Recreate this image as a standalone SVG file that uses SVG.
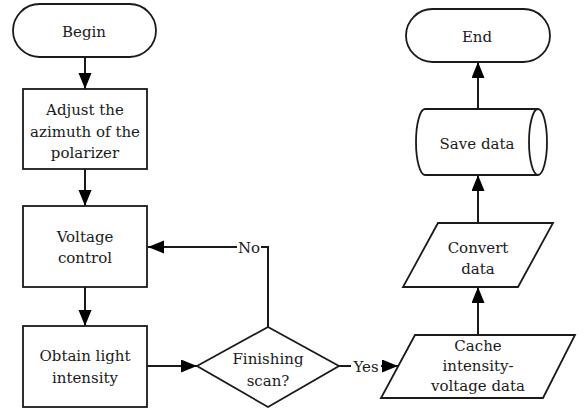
<svg xmlns="http://www.w3.org/2000/svg" width="585" height="411" viewBox="0 0 585 411">
<defs>
<marker id="ah" markerUnits="userSpaceOnUse" markerWidth="18" markerHeight="14" refX="16" refY="6.5" orient="auto">
<path d="M0,0 L16,6.5 L0,13 Z" fill="#000"/>
</marker>
<style>
.s{fill:#fff;stroke:#1a1a1a;stroke-width:1.8}
.c{fill:none;stroke:#1a1a1a;stroke-width:2}
text{font-family:'DejaVu Serif',serif;font-size:15px;fill:#1a1a1a;text-anchor:middle}
</style>
</defs>
<rect width="585" height="411" fill="#fff"/>
<g id="connectors">
<path class="c" d="M85,57 V89" marker-end="url(#ah)"/>
<path class="c" d="M85,169 V206" marker-end="url(#ah)"/>
<path class="c" d="M85,287 V326" marker-end="url(#ah)"/>
<path class="c" d="M147,366 H197" marker-end="url(#ah)"/>
<path class="c" d="M268,327 V247 H261"/>
<path class="c" d="M237,247 H148" marker-end="url(#ah)"/>
<text x="249" y="253">No</text>
<path class="c" d="M339,366 H351"/>
<text x="366" y="372">Yes</text>
<path class="c" d="M381,366 H398" marker-end="url(#ah)"/>
<path class="c" d="M478,335 V287" marker-end="url(#ah)"/>
<path class="c" d="M478,223 V175" marker-end="url(#ah)"/>
<path class="c" d="M478,109 V62" marker-end="url(#ah)"/>
</g>
<g id="begin">
<rect class="s" x="13" y="4" width="143" height="53" rx="26.5"/>
<text x="84" y="37">Begin</text>
</g>
<g id="adjust">
<rect class="s" x="23" y="89" width="124" height="80"/>
<text x="85" y="115">Adjust the</text>
<text x="85" y="137">azimuth of the</text>
<text x="85" y="158">polarizer</text>
</g>
<g id="voltage">
<rect class="s" x="23" y="206" width="124" height="81"/>
<text x="85" y="242">Voltage</text>
<text x="85" y="263">control</text>
</g>
<g id="obtain">
<rect class="s" x="23" y="326" width="124" height="81"/>
<text x="85" y="361">Obtain light</text>
<text x="85" y="383">intensity</text>
</g>
<g id="decision">
<polygon class="s" points="197,366 268,327 339,366 268,407"/>
<text x="268" y="364">Finishing</text>
<text x="268" y="386">scan?</text>
</g>
<g id="cache">
<polygon class="s" points="415,335 575,335 543,398 381,398"/>
<text x="478" y="351">Cache</text>
<text x="478" y="371">intensity-</text>
<text x="478" y="391">voltage data</text>
</g>
<g id="convert">
<polygon class="s" points="438,223 553,223 518,287 403,287"/>
<text x="478" y="253">Convert</text>
<text x="478" y="274">data</text>
</g>
<g id="save">
<path class="s" d="M425,109 H538 A9,33 0 0 1 538,175 H425 A9,33 0 0 1 425,109 Z"/>
<path class="s" d="M538,109 A9,33 0 0 0 538,175" fill="none"/>
<text x="477" y="149">Save data</text>
</g>
<g id="end">
<rect class="s" x="406" y="9" width="144" height="53" rx="26.5"/>
<text x="477" y="42">End</text>
</g>
</svg>
